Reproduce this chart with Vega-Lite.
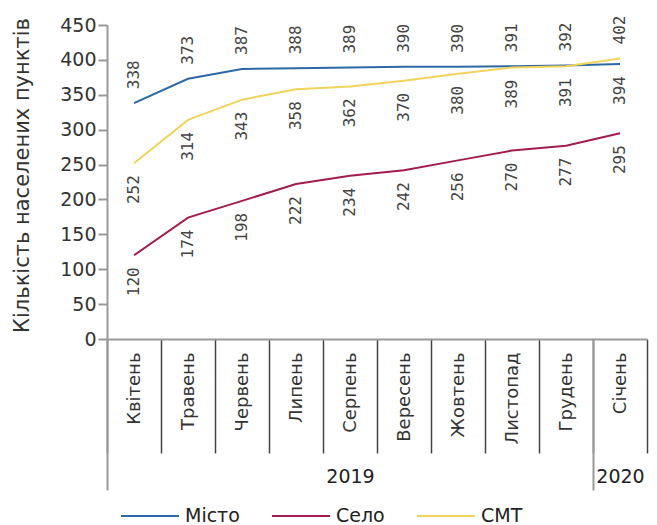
{
  "$schema": "https://vega.github.io/schema/vega-lite/v6.json",
  "width": 540,
  "height": 314,
  "autosize": {"type": "none"},
  "padding": {"left": 107, "top": 25, "right": 10, "bottom": 186},
  "background": "white",
  "config": {"view": {"stroke": null}, "axis": {"grid": false}},
  "data": {
    "values": [
      {"month": "Квітень", "series": "Місто", "value": 338},
      {"month": "Травень", "series": "Місто", "value": 373},
      {"month": "Червень", "series": "Місто", "value": 387},
      {"month": "Липень", "series": "Місто", "value": 388},
      {"month": "Серпень", "series": "Місто", "value": 389},
      {"month": "Вересень", "series": "Місто", "value": 390},
      {"month": "Жовтень", "series": "Місто", "value": 390},
      {"month": "Листопад", "series": "Місто", "value": 391},
      {"month": "Грудень", "series": "Місто", "value": 392},
      {"month": "Січень", "series": "Місто", "value": 394},
      {"month": "Квітень", "series": "Село", "value": 120},
      {"month": "Травень", "series": "Село", "value": 174},
      {"month": "Червень", "series": "Село", "value": 198},
      {"month": "Липень", "series": "Село", "value": 222},
      {"month": "Серпень", "series": "Село", "value": 234},
      {"month": "Вересень", "series": "Село", "value": 242},
      {"month": "Жовтень", "series": "Село", "value": 256},
      {"month": "Листопад", "series": "Село", "value": 270},
      {"month": "Грудень", "series": "Село", "value": 277},
      {"month": "Січень", "series": "Село", "value": 295},
      {"month": "Квітень", "series": "СМТ", "value": 252},
      {"month": "Травень", "series": "СМТ", "value": 314},
      {"month": "Червень", "series": "СМТ", "value": 343},
      {"month": "Липень", "series": "СМТ", "value": 358},
      {"month": "Серпень", "series": "СМТ", "value": 362},
      {"month": "Вересень", "series": "СМТ", "value": 370},
      {"month": "Жовтень", "series": "СМТ", "value": 380},
      {"month": "Листопад", "series": "СМТ", "value": 389},
      {"month": "Грудень", "series": "СМТ", "value": 391},
      {"month": "Січень", "series": "СМТ", "value": 402}
    ]
  },
  "encoding": {
    "y": {
      "field": "value", "type": "quantitative",
      "scale": {"domain": [0, 450], "nice": false},
      "axis": {
        "title": "Кількість населених пунктів",
        "values": [0, 50, 100, 150, 200, 250, 300, 350, 400, 450],
        "labelOverlap": false, "labelBound": false, "labelFlush": false,
        "tickSize": 9, "tickColor": "#999", "tickWidth": 2,
        "domainColor": "#999", "domainWidth": 2,
        "labelFont": "DejaVu Sans", "labelFontSize": 19, "labelColor": "#333", "labelPadding": 2,
        "titleFont": "DejaVu Sans", "titleFontSize": 21, "titleFontWeight": "normal", "titleColor": "#333",
        "titleX": -85, "titleY": 150, "titleBaseline": "middle"
      }
    }
  },
  "layer": [
    {
      "mark": {"type": "line", "strokeWidth": 2},
      "encoding": {
        "x": {
          "field": "month", "type": "ordinal",
          "sort": ["Квітень", "Травень", "Червень", "Липень", "Серпень", "Вересень", "Жовтень", "Листопад", "Грудень", "Січень"],
          "scale": {"type": "band", "paddingInner": 0, "paddingOuter": 0},
          "axis": {
            "orient": "bottom", "title": null, "labelAngle": -90,
            "labelFont": "DejaVu Sans", "labelFontSize": 18, "labelColor": "#333",
            "tickBand": "extent", "tickSize": 114, "tickColor": "#444", "tickWidth": 1.5,
            "labelPadding": -101, "domainColor": "#999", "domainWidth": 2
          }
        },
        "color": {
          "field": "series", "type": "nominal",
          "scale": {"domain": ["Місто", "Село", "СМТ"], "range": ["#2d68a6", "#a21c4f", "#f2d35b"]},
          "legend": {
            "orient": "none", "legendX": 13, "legendY": 461, "direction": "horizontal", "title": null,
            "symbolType": "stroke", "symbolSize": 3364, "symbolStrokeWidth": 2,
            "labelFont": "DejaVu Sans", "labelFontSize": 19, "labelColor": "#222",
            "columnPadding": 28, "labelOffset": 5
          }
        }
      }
    },
    {
      "transform": [
        {"joinaggregate": [{"op": "max", "field": "value", "as": "topValue"}], "groupby": ["month"]},
        {"filter": "datum.value == datum.topValue"}
      ],
      "mark": {"type": "text", "angle": -90, "align": "left", "baseline": "middle", "dx": 14, "font": "DejaVu Sans Mono", "fontSize": 16, "color": "#444"},
      "encoding": {
        "x": {
          "field": "month", "type": "ordinal",
          "sort": ["Квітень", "Травень", "Червень", "Липень", "Серпень", "Вересень", "Жовтень", "Листопад", "Грудень", "Січень"],
          "axis": {
            "orient": "bottom", "title": null, "domain": false, "labelAngle": 0,
            "labelExpr": "datum.value == 'Серпень' ? '2019' : datum.value == 'Січень' ? '2020' : ''",
            "labelFont": "DejaVu Sans", "labelFontSize": 19, "labelColor": "#222",
            "tickOffset": -27, "labelOffset": 27, "tickSize": 151, "tickColor": "#999", "tickWidth": 2,
            "tickOpacity": {"condition": {"test": "datum.value == 'Квітень' || datum.value == 'Січень'", "value": 1}, "value": 0},
            "labelPadding": -23
          }
        },
        "text": {"field": "value", "type": "quantitative"}
      }
    },
    {
      "transform": [
        {"joinaggregate": [{"op": "max", "field": "value", "as": "topValue"}], "groupby": ["month"]},
        {"filter": "datum.value != datum.topValue"}
      ],
      "mark": {"type": "text", "angle": -90, "align": "right", "baseline": "middle", "dx": -12, "font": "DejaVu Sans Mono", "fontSize": 16, "color": "#444"},
      "encoding": {
        "x": {
          "field": "month", "type": "ordinal",
          "sort": ["Квітень", "Травень", "Червень", "Липень", "Серпень", "Вересень", "Жовтень", "Листопад", "Грудень", "Січень"],
          "axis": null
        },
        "text": {"field": "value", "type": "quantitative"}
      }
    }
  ],
  "resolve": {"axis": {"x": "independent"}}
}
